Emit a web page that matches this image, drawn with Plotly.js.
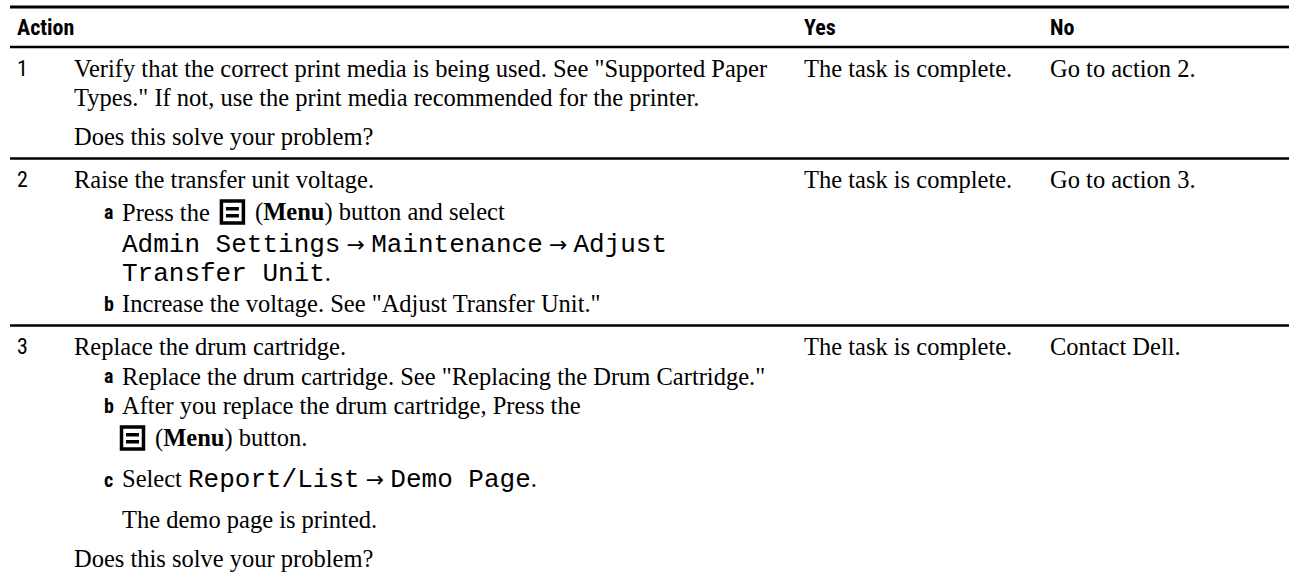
<!DOCTYPE html>
<html><head><meta charset="utf-8">
<script src="https://cdn.plot.ly/plotly-3.0.1.min.js"></script>
<style>html,body{margin:0;padding:0;background:#fff;overflow:hidden}#chart{width:1289px;height:575px}</style>
</head><body><div id="chart"></div>
<script>
// ---- table content ----
const columnHeaders = ['Action', 'Yes', 'No'];
const actionNumbers = ['1', '2', '3'];
const yesResults = ['The task is complete.', 'The task is complete.', 'The task is complete.'];
const noResults = ['Go to action 2.', 'Go to action 3.', 'Contact Dell.'];
const action1Lines = [
  'Verify that the correct print media is being used. See "Supported Paper',
  'Types." If not, use the print media recommended for the printer.',
  '',
  'Does this solve your problem?'
];
const action2Lines = [
  'Raise the transfer unit voltage.',
  'a) Press the {MENU} (<b>Menu</b>) button and select',
  '  `Admin Settings` → `Maintenance` → `Adjust`',
  '  `Transfer Unit`.',
  'b) Increase the voltage. See "Adjust Transfer Unit."'
];
const action3Lines = [
  'Replace the drum cartridge.',
  'a) Replace the drum cartridge. See "Replacing the Drum Cartridge."',
  'b) After you replace the drum cartridge, Press the',
  '  {MENU} (<b>Menu</b>) button.',
  '',
  'c) Select `Report/List` → `Demo Page`.',
  '',
  '  The demo page is printed.',
  '',
  'Does this solve your problem?'
];
const actionLines = [action1Lines, action2Lines, action3Lines];

// ---- styling / layout ----
const W = 1289, H = 575;
const SERIF = "Liberation Serif, Times New Roman, serif";
const COND = "Liberation Sans Narrow, Arial Narrow, Roboto Condensed, Liberation Sans, sans-serif";
const BODY = 24.5, MONO_SIZE = 26;
const X = {line0: 10, line1: W, num: 15, text: 72, label: 102, sub: 120, yes: 802, no: 1048};
const Y = {top: 7, header: 27, headerLine: 47};
const GAP = {line: 29.5, para: 39, icon: 3, rowTop: 21, rowBottom: 22};

const canvas = document.createElement('canvas');
const ctx = canvas.getContext('2d');
function textWidth(s, size, family) {
  ctx.font = size + 'px ' + family;
  return ctx.measureText(s).width;
}
function markup(s) {
  return s
    .replace(/ → /g, ' <span style="font-family:\'DejaVu Sans\',sans-serif;font-size:22px">→</span> ')
    .replace(/`([^`]*)`/g, (m, t) => "<span style=\"font-family:'Liberation Mono',monospace;font-size:" + MONO_SIZE + "px\">" + t + "</span>");
}

const annotations = [];
const shapes = [];
function ann(x, y, text, font) {
  annotations.push({x, y, xref: 'x', yref: 'y', text, showarrow: false,
    xanchor: 'left', yanchor: 'middle', align: 'left', font});
}
function hline(y, w) {
  shapes.push({type: 'line', xref: 'x', yref: 'y', x0: X.line0, x1: X.line1, y0: y, y1: y,
    line: {color: '#000', width: w}});
}
function menuIcon(x0, y) {
  const s = 25;
  shapes.push({type: 'rect', xref: 'x', yref: 'y', x0: x0 + 1.5, x1: x0 + s - 1.5, y0: y - s / 2 + 1.5, y1: y + s / 2 - 1.5,
    line: {color: '#000', width: 3.5}, fillcolor: 'rgba(0,0,0,0)'});
  [[-5, -1.5], [2, 5.5]].forEach(([a, b]) => shapes.push({type: 'rect', xref: 'x', yref: 'y',
    x0: x0 + 6, x1: x0 + s - 6, y0: y + a, y1: y + b, line: {width: 0}, fillcolor: '#000'}));
  return s;
}

const serifFont = {family: SERIF, size: BODY, color: '#000'};
const headFont = {family: COND, size: 22, color: '#000', weight: 'bold'};

// header
hline(Y.top, 3);
ann(X.num, Y.header, '<b>' + columnHeaders[0] + '</b>', headFont);
ann(X.yes, Y.header, '<b>' + columnHeaders[1] + '</b>', headFont);
ann(X.no, Y.header, '<b>' + columnHeaders[2] + '</b>', headFont);
hline(Y.headerLine, 2.5);

let rowTop = Y.headerLine;
actionLines.forEach((lines, r) => {
  let y = rowTop + GAP.rowTop;
  let first = true, pendingPara = false, prevIcon = false;
  const firstY = y;
  lines.forEach(line => {
    if (line === '') { pendingPara = true; return; }
    const hasIcon = line.includes('{MENU}');
    if (!first) y += (pendingPara ? GAP.para : GAP.line) + ((hasIcon || prevIcon) ? GAP.icon : 0);
    pendingPara = false;
    let x = X.text, body = line;
    const m = line.match(/^([a-z])\) (.*)$/);
    if (m) {
      ann(X.label, y, '<b>' + m[1] + '</b>', {family: COND, size: 20, color: '#000', weight: 'bold'});
      x = X.sub; body = m[2];
    } else if (line.startsWith('  ')) {
      x = X.sub; body = line.slice(2);
    }
    if (hasIcon) {
      const [before, after] = body.split('{MENU}');
      let cx = x;
      if (before.length) {
        ann(cx, y, markup(before), serifFont);
        cx += textWidth(before, BODY, SERIF) + 6;
      }
      cx += menuIcon(cx, y) + 8;
      ann(cx, y, markup(after.trim()), serifFont);
    } else {
      ann(x, y, markup(body), serifFont);
    }
    prevIcon = hasIcon;
    first = false;
  });
  ann(X.num, firstY, actionNumbers[r], {family: COND, size: 22, color: '#000'});
  ann(X.yes, firstY, yesResults[r], serifFont);
  ann(X.no, firstY, noResults[r], serifFont);
  rowTop = y + GAP.rowBottom;
  if (r < actionLines.length - 1) hline(rowTop, 2.5);
});

const layout = {
  width: W, height: H, margin: {l: 0, r: 0, t: 0, b: 0},
  paper_bgcolor: '#fff', plot_bgcolor: '#fff', showlegend: false,
  xaxis: {range: [0, W], visible: false, fixedrange: true},
  yaxis: {range: [H, 0], visible: false, fixedrange: true},
  annotations, shapes
};
Plotly.newPlot('chart', [], layout, {staticPlot: true, displayModeBar: false});
</script></body></html>
